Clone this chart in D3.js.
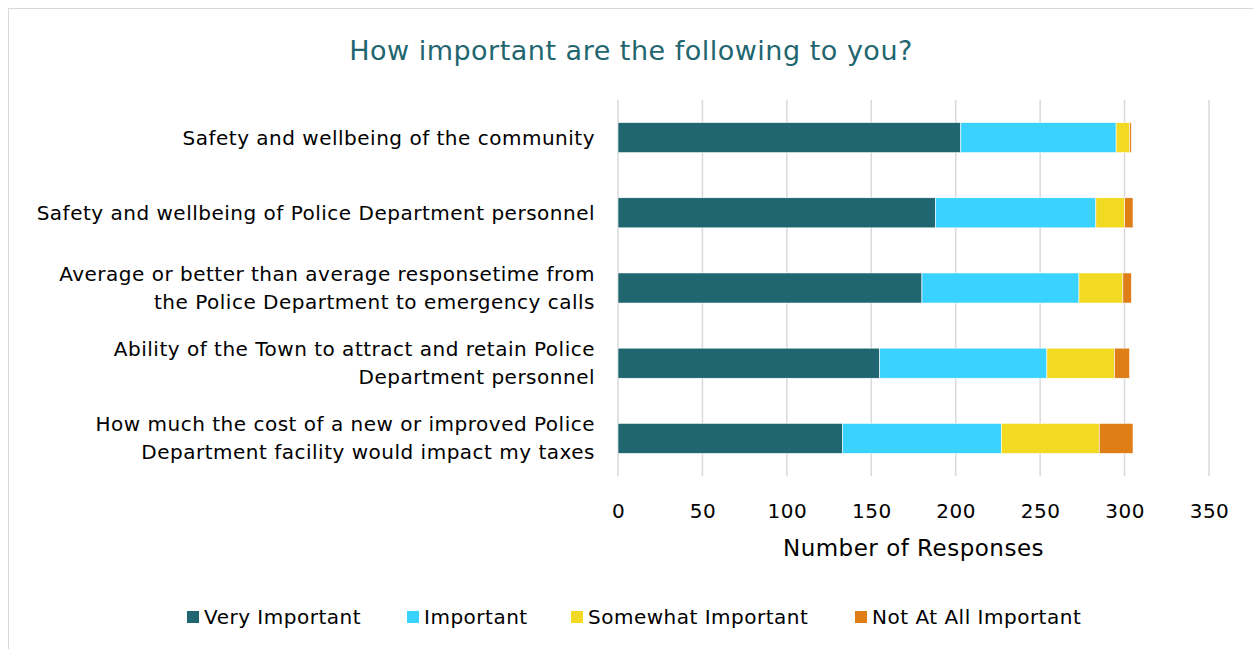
<!DOCTYPE html>
<html><head><meta charset="utf-8">
<script src="https://cdn.jsdelivr.net/npm/d3@7"></script>
<style>
body{margin:0;background:#fff;}
svg text{font-family:"DejaVu Sans",sans-serif;letter-spacing:0.5px;}
</style></head>
<body>
<svg id="chart" width="1253" height="649"></svg>
<script>
const categories = [
  ["Safety and wellbeing of the community"],
  ["Safety and wellbeing of Police Department personnel"],
  ["Average or better than average responsetime from", "the Police Department to emergency calls"],
  ["Ability of the Town to attract and retain Police", "Department personnel"],
  ["How much the cost of a new or improved Police", "Department facility would impact my taxes"]
];
const seriesNames = ["Very Important", "Important", "Somewhat Important", "Not At All Important"];
const veryImportant = [203, 188, 180, 155, 133];
const important = [92, 95, 93, 99, 94];
const somewhatImportant = [8, 17, 26, 40, 58];
const notAtAllImportant = [1, 5, 5, 9, 20];
const xTicks = [0, 50, 100, 150, 200, 250, 300, 350];
const colors = ["#1f6670", "#3ad3ff", "#f2da22", "#df7d17"];

const svg = d3.select("#chart");
svg.append("rect").attr("x", 8.5).attr("y", 8.5).attr("width", 1260).attr("height", 660)
  .attr("fill", "#fff").attr("stroke", "#d9d9d9").attr("stroke-width", 1);

const x = d3.scaleLinear().domain([0, 350]).range([618, 1209]);
const y = d3.scaleBand().domain(d3.range(categories.length)).range([100, 476])
  .paddingInner(0.6).paddingOuter(0.3);

// gridlines
svg.append("g").selectAll("line").data(xTicks).join("line")
  .attr("x1", d => x(d)).attr("x2", d => x(d)).attr("y1", 100).attr("y2", 476)
  .attr("stroke", "#d9d9d9").attr("stroke-width", 1.5);

// stacked data
const rows = categories.map((c, i) => ({
  idx: i,
  "Very Important": veryImportant[i],
  "Important": important[i],
  "Somewhat Important": somewhatImportant[i],
  "Not At All Important": notAtAllImportant[i]
}));
const stacked = d3.stack().keys(seriesNames)(rows);

svg.append("g").selectAll("g").data(stacked).join("g")
  .attr("fill", (d, i) => colors[i])
  .selectAll("rect").data(d => d).join("rect")
  .attr("x", d => x(d[0])).attr("width", d => x(d[1]) - x(d[0]))
  .attr("y", d => y(d.data.idx)).attr("height", y.bandwidth())
  .attr("stroke", "#ffffff").attr("stroke-width", 0.6);

// x axis
const xAxis = d3.axisBottom(x).tickValues(xTicks).tickSize(0).tickPadding(0);
const gx = svg.append("g").attr("transform", "translate(0,500)").call(xAxis);
gx.select(".domain").remove();
gx.selectAll("text").attr("font-size", 20).attr("fill", "#000").attr("dy", "0.9em")
  .style("font-family", '"DejaVu Sans",sans-serif').style("letter-spacing", "0.5px");

svg.append("text").attr("x", x(175)).attr("y", 556).attr("text-anchor", "middle")
  .attr("font-size", 23).attr("fill", "#000").text("Number of Responses");

// category labels
const lab = svg.append("g").selectAll("text").data(categories).join("text")
  .attr("text-anchor", "end").attr("font-size", 20).attr("fill", "#000");
lab.each(function(lines, i) {
  const cy = y(i) + y.bandwidth() / 2;
  const lh = 28;
  const start = cy - (lines.length - 1) * lh / 2;
  d3.select(this).selectAll("tspan").data(lines).join("tspan")
    .attr("x", 595).attr("y", (d, j) => start + j * lh).attr("dy", "0.35em").text(d => d);
});

// title
svg.append("text").attr("x", 631).attr("y", 60).attr("text-anchor", "middle")
  .attr("font-size", 27).attr("fill", "#1f6670").text("How important are the following to you?");

// legend
const legendX = [187, 407, 571, 855];
const lg = svg.append("g").selectAll("g").data(seriesNames).join("g")
  .attr("transform", (d, i) => `translate(${legendX[i]},617)`);
lg.append("rect").attr("x", 0).attr("y", -6).attr("width", 12).attr("height", 12)
  .attr("fill", (d, i) => colors[i]);
lg.append("text").attr("x", 17).attr("dy", "0.35em").attr("font-size", 20).attr("fill", "#000").text(d => d);
</script>
</body></html>
